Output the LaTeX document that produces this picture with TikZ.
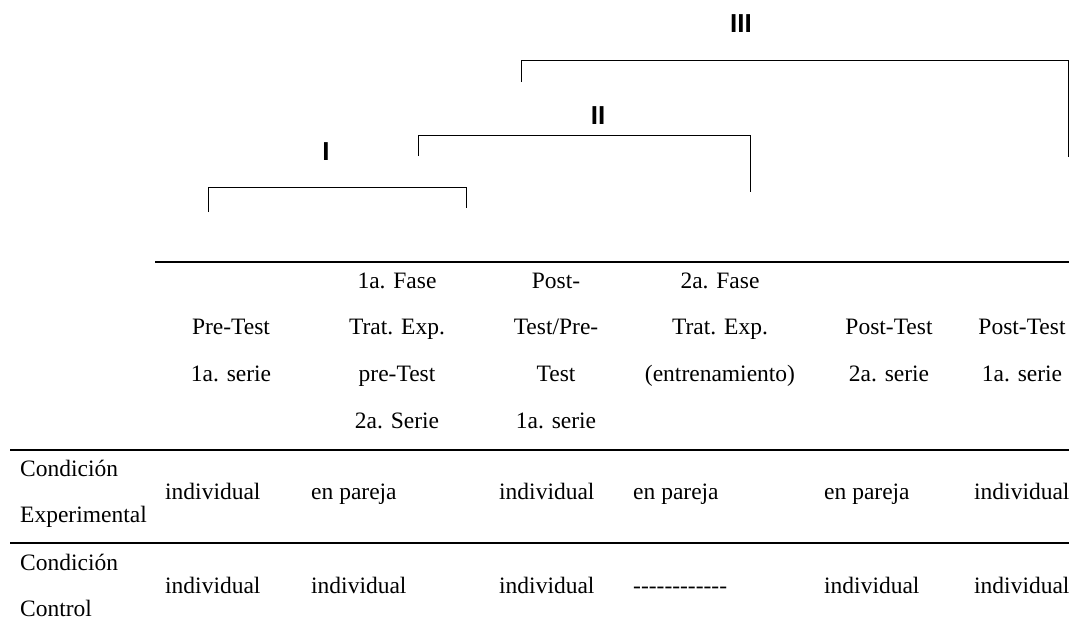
\documentclass[tikz,border=0pt]{standalone}
\usepackage{fontspec}
\setmainfont{Liberation Serif}[Ligatures=TeXOff]
\newfontfamily\numfont{Liberation Sans}
\begin{document}
\begin{tikzpicture}[x=1pt,y=-1pt,
 txt/.style={inner sep=0pt, anchor=base, font=\fontsize{23.5}{26}\selectfont},
 lft/.style={inner sep=0pt, anchor=base west, font=\fontsize{23.5}{26}\selectfont},
 rulel/.style={line width=1.5pt},
 brk/.style={line width=1pt},
 roman/.style={inner sep=0pt, font=\numfont\bfseries\fontsize{26}{26}\selectfont}]
\useasboundingbox (0,0) rectangle (1070,626);
% roman labels
\node[roman] (nI) at (326,152) {I};
\node[roman] (nII) at (598,116) {II};
\node[roman] (nIII) at (741,24) {III};
% brackets
\coordinate (a1) at (208,212); \coordinate (a2) at (208,187);
\coordinate (a3) at (466,187); \coordinate (a4) at (466,208);
\coordinate (b1) at (418,156); \coordinate (b2) at (418,135);
\coordinate (b3) at (750,135); \coordinate (b4) at (750,192);
\coordinate (c1) at (521,82); \coordinate (c2) at (521,61);
\coordinate (c3) at (1068,61); \coordinate (c4) at (1068,157);
\draw[brk] (a1) -- (a2) -- (a3) -- (a4);
\draw[brk] (b1) -- (b2) -- (b3) -- (b4);
\draw[brk] (c1) -- (c2) -- (c3) -- (c4);
% rules
\coordinate (t1) at (155,262); \coordinate (t2) at (1069,262);
\coordinate (m1) at (10,450); \coordinate (m2) at (1069,450);
\coordinate (u1) at (10,543); \coordinate (u2) at (1069,543);
\draw[rulel] (t1) -- (t2);
\draw[rulel] (m1) -- (m2);
\draw[rulel] (u1) -- (u2);
% header column 1
\node[txt] (h1a) at (231,334) {Pre-Test};
\node[txt] (h1b) at (231,381) {1a. serie};
% header column 2
\node[txt] (h2a) at (397,288) {1a. Fase};
\node[txt] (h2b) at (397,334) {Trat. Exp.};
\node[txt] (h2c) at (397,381) {pre-Test};
\node[txt] (h2d) at (397,428) {2a. Serie};
% header column 3
\node[txt] (h3a) at (556,288) {Post-};
\node[txt] (h3b) at (556,334) {Test/Pre-};
\node[txt] (h3c) at (556,381) {Test};
\node[txt] (h3d) at (556,428) {1a. serie};
% header column 4
\node[txt] (h4a) at (720,288) {2a. Fase};
\node[txt] (h4b) at (720,334) {Trat. Exp.};
\node[txt] (h4c) at (720,381) {(entrenamiento)};
% header column 5
\node[txt] (h5a) at (889,334) {Post-Test};
\node[txt] (h5b) at (889,381) {2a. serie};
% header column 6
\node[txt] (h6a) at (1022,334) {Post-Test};
\node[txt] (h6b) at (1022,381) {1a. serie};
% row labels
\node[lft] (r1a) at (20,476) {Condición};
\node[lft] (r1b) at (20,522) {Experimental};
\node[lft] (r2a) at (20,570) {Condición};
\node[lft] (r2b) at (20,616) {Control};
% body row 1
\node[lft] (e1) at (165,499) {individual};
\node[lft] (e2) at (311,499) {en pareja};
\node[lft] (e3) at (499,499) {individual};
\node[lft] (e4) at (633,499) {en pareja};
\node[lft] (e5) at (824,499) {en pareja};
\node[lft] (e6) at (974,499) {individual};
% body row 2
\node[lft] (k1) at (165,593) {individual};
\node[lft] (k2) at (311,593) {individual};
\node[lft] (k3) at (499,593) {individual};
\node[lft] (k4) at (633,593) {------------};
\node[lft] (k5) at (824,593) {individual};
\node[lft] (k6) at (974,593) {individual};
\end{tikzpicture}
\end{document}
